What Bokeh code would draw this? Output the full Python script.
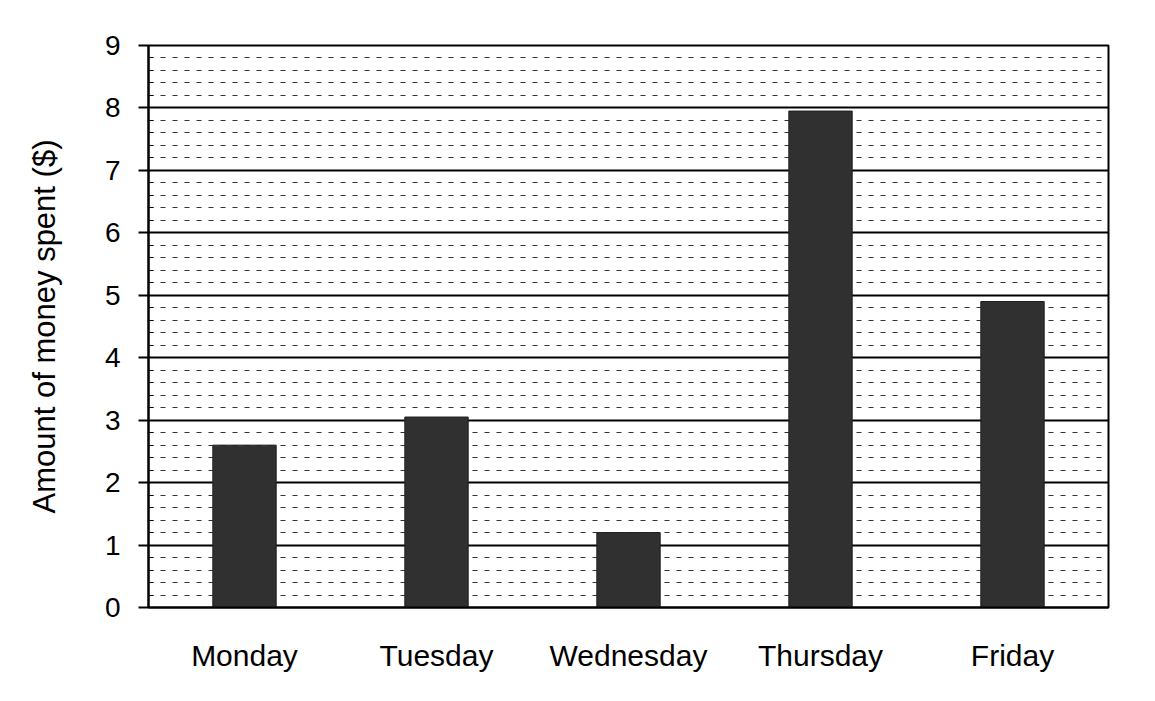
from bokeh.plotting import figure
from bokeh.models import ColumnDataSource, SingleIntervalTicker, Range1d
from bokeh.embed import file_html
from bokeh.resources import INLINE

days = ["Monday", "Tuesday", "Wednesday", "Thursday", "Friday"]
spent = [2.6, 3.05, 1.2, 7.95, 4.9]
y_label = "Amount of money spent ($)"

FONT = "Liberation Sans"

src = ColumnDataSource(data=dict(day=days, spent=spent))

p = figure(
    x_range=days, y_range=Range1d(0, 9),
    width=1139, height=685,
    min_border_left=148, min_border_right=31, min_border_top=45, min_border_bottom=78,
    output_backend="svg", toolbar_location=None,
)
p.vbar(x="day", top="spent", width=0.33, source=src,
       fill_color="#303030", line_color="#1e1e1e", line_width=1)

p.x_range.range_padding = 0.0

# outline box
p.outline_line_color = "black"
p.outline_line_width = 2
p.outline_line_alpha = 1.0
p.background_fill_color = "white"
p.border_fill_color = "white"

# grid
p.xgrid.grid_line_color = None
ticker = SingleIntervalTicker(interval=1, num_minor_ticks=5)
p.yaxis.ticker = ticker
p.ygrid.ticker = ticker
p.ygrid.grid_line_color = "black"
p.ygrid.grid_line_width = 2
p.ygrid.grid_line_alpha = 1.0
p.ygrid.minor_grid_line_color = "#333333"
p.ygrid.minor_grid_line_width = 1
p.ygrid.minor_grid_line_dash = "5 7"

# y axis
p.yaxis.axis_label = y_label
p.yaxis.axis_label_text_font = FONT
p.yaxis.axis_label_text_font_size = "31px"
p.yaxis.axis_label_text_font_style = "normal"
p.yaxis.axis_label_text_color = "black"
p.yaxis.axis_label_standoff = 40
p.yaxis.major_label_text_font = FONT
p.yaxis.major_label_text_font_size = "28px"
p.yaxis.major_label_text_color = "black"
p.yaxis.major_label_standoff = 18
p.yaxis.axis_line_color = "black"
p.yaxis.axis_line_width = 2
p.yaxis.major_tick_line_color = "black"
p.yaxis.major_tick_line_width = 2
p.yaxis.major_tick_out = 10
p.yaxis.major_tick_in = 0
p.yaxis.minor_tick_line_color = "black"
p.yaxis.minor_tick_line_width = 1
p.yaxis.minor_tick_in = 5
p.yaxis.minor_tick_out = 0

# x axis
p.xaxis.major_label_text_font = FONT
p.xaxis.major_label_text_font_size = "30px"
p.xaxis.major_label_text_color = "black"
p.xaxis.major_label_standoff = 25
p.xaxis.axis_line_color = "black"
p.xaxis.axis_line_width = 2
p.xaxis.major_tick_line_color = None
p.xaxis.minor_tick_line_color = None

open("out.html", "w").write(file_html(p, INLINE))
